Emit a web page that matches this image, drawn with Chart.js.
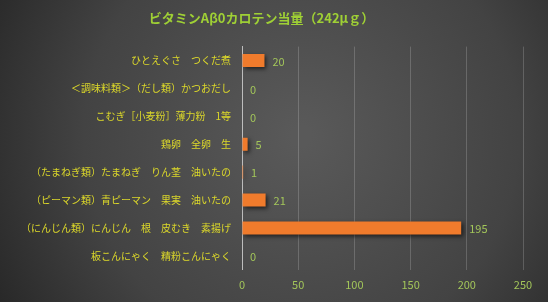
<!DOCTYPE html>
<html>
<head>
  <meta charset="utf-8">
  <script src="https://cdn.jsdelivr.net/npm/chart.js"></script>
  <style>
    html, body { margin: 0; padding: 0; background: #333; }
  </style>
</head>
<body>
  <canvas id="chart" width="548" height="302"></canvas>
  <script>
    const chartTitle = 'ビタミンAβ0カロテン当量（242μｇ）';
    const foods = [
      'ひとえぐさ　つくだ煮',
      '＜調味料類＞（だし類）かつおだし',
      'こむぎ［小麦粉］薄力粉　1等',
      '鶏卵　全卵　生',
      '（たまねぎ類）たまねぎ　りん茎　油いたの',
      '（ピーマン類）青ピーマン　果実　油いたの',
      '（にんじん類）にんじん　根　皮むき　素揚げ',
      '板こんにゃく　精粉こんにゃく'
    ];
    const amounts = [20, 0, 0, 5, 1, 21, 195, 0];
    const xTicks = [0, 50, 100, 150, 200, 250];

    const font = '"Noto Sans CJK JP", "Noto Sans", sans-serif';

    // gradient background, bar shadow, value labels
    const bgPlugin = {
      id: 'bg',
      beforeDraw(chart) {
        const c = chart.ctx;
        const w = chart.width, h = chart.height;
        const g = c.createRadialGradient(w * 0.55, h * 0.45, 10, w * 0.55, h * 0.45, w * 0.65);
        g.addColorStop(0, '#595959');
        g.addColorStop(0.6, '#434343');
        g.addColorStop(1, '#262626');
        c.save();
        c.fillStyle = g;
        c.fillRect(0, 0, w, h);
        c.restore();
      },
      beforeDatasetsDraw(chart) {
        const c = chart.ctx;
        c.save();
        c.shadowColor = 'rgba(0,0,0,0.6)';
        c.shadowBlur = 4;
        c.shadowOffsetX = 2;
        c.shadowOffsetY = 2;
      },
      afterDatasetsDraw(chart) {
        chart.ctx.restore();
        const c = chart.ctx;
        const meta = chart.getDatasetMeta(0);
        c.save();
        c.font = '11px ' + font;
        c.fillStyle = '#a3c65a';
        c.textBaseline = 'middle';
        c.textAlign = 'left';
        meta.data.forEach((bar, i) => {
          c.fillText(String(amounts[i]), bar.x + 8, bar.y + 1);
        });
        c.restore();
      }
    };

    new Chart(document.getElementById('chart'), {
      type: 'bar',
      data: {
        labels: foods,
        datasets: [{
          data: amounts,
          backgroundColor: '#f07b2c',
          borderWidth: 0,
          categoryPercentage: 1,
          barPercentage: 0.47
        }]
      },
      plugins: [bgPlugin],
      options: {
        indexAxis: 'y',
        responsive: false,
        animation: false,
        layout: { padding: { left: 0, right: 25, top: 0, bottom: 3 } },
        plugins: {
          legend: { display: false },
          tooltip: { enabled: false },
          title: {
            display: true,
            text: chartTitle,
            color: '#9fd035',
            font: { family: font, size: 13, weight: 'bold' },
            padding: { top: 10, bottom: 21 }
          }
        },
        scales: {
          x: {
            min: 0,
            max: 250,
            afterBuildTicks(axis) {
              axis.ticks = xTicks.map(v => ({ value: v }));
            },
            grid: {
              color: 'rgba(255,255,255,0.18)',
              drawTicks: false
            },
            border: { display: false },
            ticks: {
              color: '#a3c65a',
              font: { family: font, size: 11 },
              padding: 8
            }
          },
          y: {
            afterFit(axis) { axis.width = 242; },
            grid: { display: false },
            border: { color: '#bdbdbd', width: 1 },
            ticks: {
              color: '#dcd82a',
              font: { family: font, size: 10 },
              padding: 3
            }
          }
        }
      }
    });
  </script>
</body>
</html>
